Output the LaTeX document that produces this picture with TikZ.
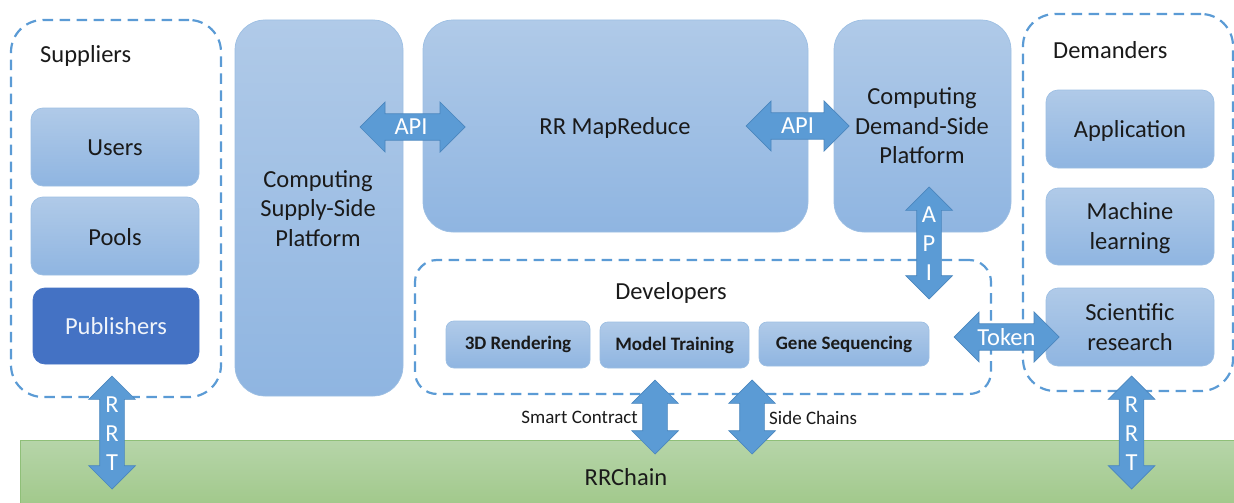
\documentclass[tikz,border=0pt]{standalone}
\usepackage{fontspec}
\setmainfont{Carlito}
\usetikzlibrary{shapes.arrows}
\definecolor{dashblue}{HTML}{5B9BD5}
\definecolor{boxtop}{HTML}{B0CAE8}
\definecolor{boxbot}{HTML}{8FB5E1}
\definecolor{boxline}{HTML}{9DBFE3}
\definecolor{pubblue}{HTML}{4472C4}
\definecolor{arrowline}{HTML}{4A86BE}
\definecolor{greentop}{HTML}{B6D5A9}
\definecolor{greenbot}{HTML}{A2C98C}
\definecolor{greenline}{HTML}{8FBF78}
\definecolor{ink}{HTML}{1A1A1A}
\tikzset{
  group/.style={draw=dashblue,line width=2.2pt,dash pattern=on 10.5pt off 6.5pt,rounded corners=#1},
  group/.default=32pt,
  panel/.style={draw=boxline,line width=.7pt,top color=boxtop,bottom color=boxbot,rounded corners=#1,inner sep=0pt,
    align=center,text=ink,font=\fontsize{24.5}{29.4}\selectfont},
  panel/.default=12pt,
  task/.style={panel=8pt,font=\fontsize{19}{22}\selectfont\bfseries},
  caption/.style={text=ink,inner sep=0pt,font=\fontsize{24.5}{29.4}\selectfont},
  small/.style={text=ink,inner sep=0pt,font=\fontsize{19}{22}\selectfont},
  dblarrow/.style={double arrow,draw=arrowline,line width=.7pt,fill=dashblue,inner sep=12pt,
    double arrow tip angle=90,double arrow head extend=11pt,anchor=center},
  harrow/.style={dblarrow},
  varrow/.style={dblarrow,shape border rotate=90},
  arrowtext/.style={text=white,inner sep=0pt,align=center,font=\fontsize{24.5}{29}\selectfont},
}
\begin{document}
\begin{tikzpicture}[x=1pt,y=-1pt]
\useasboundingbox (0,0) rectangle (1234,503);
% chain
\node[draw=greenline,line width=.7pt,top color=greentop,bottom color=greenbot,minimum width=1214pt,minimum height=63pt,inner sep=0pt] (chain) at (627,471.5) {};
\node[caption] (chaintext) at (626,477) {RRChain};
% dashed groups
\node[group,minimum width=210pt,minimum height=377pt,inner sep=0pt] (suppliers) at (116,208.5) {};
\node[group,minimum width=210pt,minimum height=377pt,inner sep=0pt] (demanders) at (1128,202.5) {};
\node[group=22pt,minimum width=576pt,minimum height=134pt,inner sep=0pt] (developers) at (703,327) {};
\node[caption,anchor=west] (supt) at (40,56) {Suppliers};
\node[caption,anchor=west] (demt) at (1053,50) {Demanders};
\node[caption] (devt) at (671,293) {Developers};
% panels
\node[panel=30pt,minimum width=168pt,minimum height=376pt] (css) at (319,208) {};
\node[caption,align=center] (csst) at (318,208.5) {Computing\\Supply-Side\\Platform};
\node[panel=30pt,minimum width=385pt,minimum height=212pt] (mr) at (615.5,126) {};
\node[caption] (mrt) at (615,128) {RR MapReduce};
\node[panel=30pt,minimum width=177pt,minimum height=212pt] (cds) at (922.5,126) {};
\node[caption,align=center] (cdst) at (922,126) {Computing\\Demand-Side\\Platform};
\node[panel,minimum width=168pt,minimum height=78pt] (users) at (115,147) {};
\node[caption] (userst) at (115,148) {Users};
\node[panel,minimum width=168pt,minimum height=78pt] (pools) at (115,236) {};
\node[caption] (poolst) at (115,237) {Pools};
\node[panel,draw=pubblue,top color=pubblue,bottom color=pubblue,text=white!92!pubblue,minimum width=166pt,minimum height=76pt] (publishers) at (116,326) {Publishers};
\node[panel,minimum width=168pt,minimum height=78pt] (app) at (1130,129) {};
\node[caption] (appt) at (1130,131) {Application};
\node[panel,minimum width=168pt,minimum height=77pt] (ml) at (1130,226.5) {};
\node[caption,align=center] (mlt) at (1130,228) {Machine\\learning};
\node[panel,minimum width=168pt,minimum height=78pt] (sci) at (1130,327) {Scientific\\research};
\node[task,minimum width=144pt,minimum height=47pt] (render) at (518,344.5) {3D Rendering};
\node[task,minimum width=149pt,minimum height=46pt] (train) at (674.5,345) {Model Training};
\node[task,minimum width=170pt,minimum height=44pt] (gene) at (844,344) {Gene Sequencing};
% double arrows
\node[harrow,minimum height=105pt,minimum width=50pt] (api1) at (412.5,127) {};
\node[arrowtext] at (411,127) {API};
\node[harrow,minimum height=103pt,minimum width=50pt] (api2) at (797.5,126) {};
\node[arrowtext] at (api2.center) {API};
\node[harrow,minimum height=105pt,minimum width=50pt] (token) at (1006.5,337) {};
\node[arrowtext] at (token.center) {Token};
\node[varrow,minimum height=112pt,minimum width=46pt] (api3) at (929,243) {};
\node[arrowtext] at (929,244) {A\\P\\I};
\node[varrow,minimum height=113pt,minimum width=46pt] (rrt1) at (112,432.5) {};
\node[arrowtext] at (112,434) {R\\R\\T};
\node[varrow,minimum height=113pt,minimum width=46pt] (rrt2) at (1131.5,432.5) {};
\node[arrowtext] at (1131.5,434) {R\\R\\T};
\node[varrow,minimum height=74pt,minimum width=46pt] (smart) at (655,417) {};
\node[varrow,minimum height=74pt,minimum width=46pt] (side) at (752,417) {};
\node[small,anchor=east] (smartt) at (638,417) {Smart Contract};
\node[small,anchor=west] (sidet) at (769,418) {Side Chains};
\end{tikzpicture}
\end{document}
